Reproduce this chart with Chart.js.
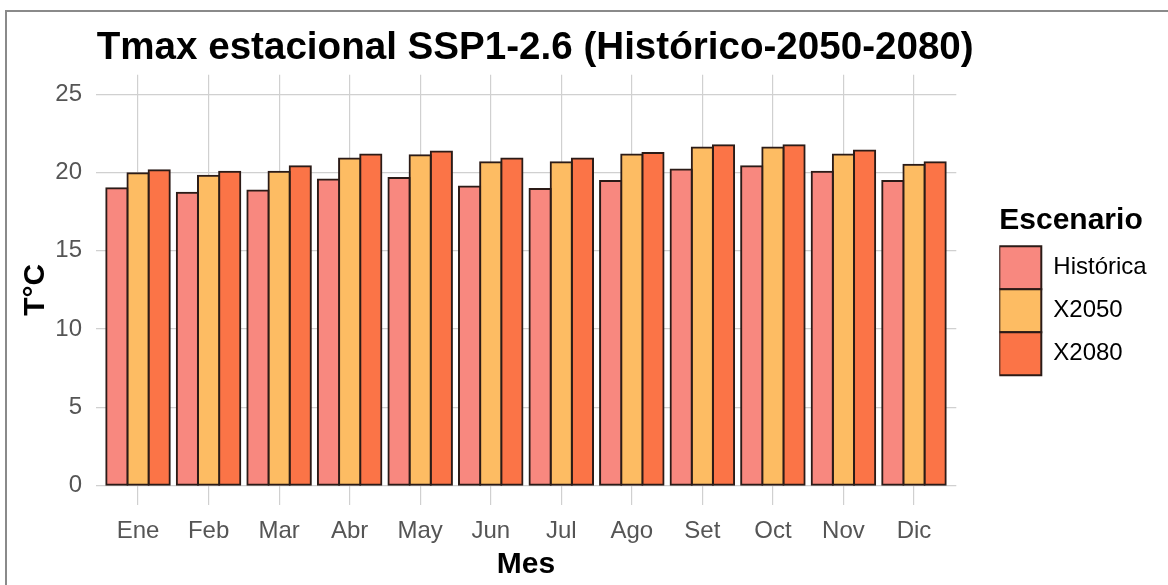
<!DOCTYPE html>
<html>
<head>
<meta charset="utf-8">
<script src="https://cdn.jsdelivr.net/npm/chart.js@4.4.1/dist/chart.umd.min.js"></script>
<style>
  html, body { margin: 0; padding: 0; background: #fff; overflow: hidden; }
  #wrap { position: relative; width: 1168px; height: 585px; }
  #frame {
    position: absolute; left: 5px; top: 10px; width: 1300px; height: 700px;
    border-left: 2px solid #8a8a8a; border-top: 2px solid #8a8a8a;
    pointer-events: none;
  }
</style>
</head>
<body>
<div id="wrap">
  <canvas id="c" width="1168" height="585" style="width:1168px;height:585px"></canvas>
  <div id="frame"></div>
</div>
<script>
// Monthly mean maximum temperature (°C) per scenario
const meses = ['Ene', 'Feb', 'Mar', 'Abr', 'May', 'Jun', 'Jul', 'Ago', 'Set', 'Oct', 'Nov', 'Dic'];
const historica = [19.0, 18.7, 18.85, 19.55, 19.65, 19.1, 18.95, 19.45, 20.2, 20.4, 20.05, 19.45];
const x2050 = [19.95, 19.8, 20.05, 20.9, 21.1, 20.65, 20.65, 21.15, 21.6, 21.6, 21.15, 20.5];
const x2080 = [20.15, 20.05, 20.4, 21.15, 21.35, 20.9, 20.9, 21.25, 21.75, 21.75, 21.4, 20.65];
const escenarios = ['Histórica', 'X2050', 'X2080'];
const yTicks = [0, 5, 10, 15, 20, 25];

const colores = ['#F8887F', '#FDBC63', '#FB7447'];
const borde = '#2b1b17';
const bordeAncho = 2;
const FONT = '"Liberation Sans", Arial, sans-serif';

const series = [historica, x2050, x2080];
const datasets = escenarios.map((nombre, i) => ({
  label: nombre,
  data: series[i],
  backgroundColor: colores[i],
  borderColor: borde,
  borderWidth: bordeAncho,
  borderSkipped: false,
  inflateAmount: bordeAncho / 2,
  categoryPercentage: 0.9,
  barPercentage: 1.0
}));

// legend sits to the right of the panel, boxes stacked edge to edge;
// the title starts at the panel's left edge and may run past its right edge
const LEGEND_W = 211.7;
const placement = {
  id: 'placement',
  afterInit(chart) {
    const lg = chart.legend;
    const fit = lg.fit;
    lg.fit = function () { fit.call(this); this.width = LEGEND_W; };
  },
  afterLayout(chart) {
    const lg = chart.legend;
    lg.left += 43; lg.right += 43;
    lg.top -= 5.7; lg.bottom -= 5.7;
    const tb = chart.titleBlock;
    tb.left = chart.chartArea.left + 1;
    tb.right = chart.width;
    tb.width = tb.right - tb.left;
  }
};

const bg = {
  id: 'bg',
  beforeDraw(chart) {
    const ctx = chart.ctx;
    ctx.save();
    ctx.fillStyle = '#ffffff';
    ctx.fillRect(0, 0, chart.width, chart.height);
    ctx.restore();
  }
};

new Chart(document.getElementById('c'), {
  type: 'bar',
  data: { labels: meses, datasets },
  plugins: [bg, placement],
  options: {
    responsive: false,
    animation: false,
    layout: { padding: { left: 18, top: 12, right: 0, bottom: 5 } },
    scales: {
      x: {
        offset: true,
        afterBuildTicks(axis) {
          // discrete axis padded by 0.6 of a category on each side
          axis._startValue = -0.6;
          axis._valueRange = meses.length - 1 + 1.2;
        },
        grid: { offset: false, color: '#d0d0d0', lineWidth: 1.2, drawTicks: false },
        border: { display: false },
        ticks: { color: '#555', font: { family: FONT, size: 24 }, padding: 11.6, maxRotation: 0, autoSkip: false },
        title: { display: true, text: 'Mes', color: '#000', font: { family: FONT, size: 30, weight: 'bold', lineHeight: 1 }, padding: { top: -7, bottom: 0 } }
      },
      y: {
        min: -1.25,
        max: 26.25,
        afterBuildTicks(axis) { axis.ticks = yTicks.map(v => ({ value: v })); },
        grid: { color: '#d0d0d0', lineWidth: 1.2, drawTicks: false },
        border: { display: false },
        ticks: { color: '#555', font: { family: FONT, size: 24 }, padding: 13.7 },
        title: { display: true, text: 'T°C', color: '#000', font: { family: FONT, size: 30, weight: 'bold' }, padding: { top: 0, bottom: -12.4 } }
      }
    },
    plugins: {
      title: {
        display: true,
        text: 'Tmax estacional SSP1-2.6 (Histórico-2050-2080)',
        align: 'start',
        fullSize: false,
        color: '#000',
        font: { family: FONT, size: 38.6, weight: 'bold' },
        padding: { top: 12.8, bottom: 3.6 }
      },
      legend: {
        position: 'right',
        align: 'center',
        title: {
          display: true,
          text: 'Escenario',
          position: 'start',
          color: '#000',
          font: { family: FONT, size: 30, weight: 'bold' },
          padding: { top: 0, bottom: 5 }
        },
        labels: {
          boxWidth: 42,
          boxHeight: 43,
          padding: 0,
          color: '#333',
          font: { family: FONT, size: 24 },
          generateLabels(chart) {
            return chart.data.datasets.map((ds, i) => ({
              text: ds.label,
              fillStyle: ds.backgroundColor,
              strokeStyle: borde,
              lineWidth: bordeAncho,
              hidden: false,
              datasetIndex: i
            }));
          }
        }
      },
      tooltip: { enabled: false }
    }
  }
});
</script>
</body>
</html>
